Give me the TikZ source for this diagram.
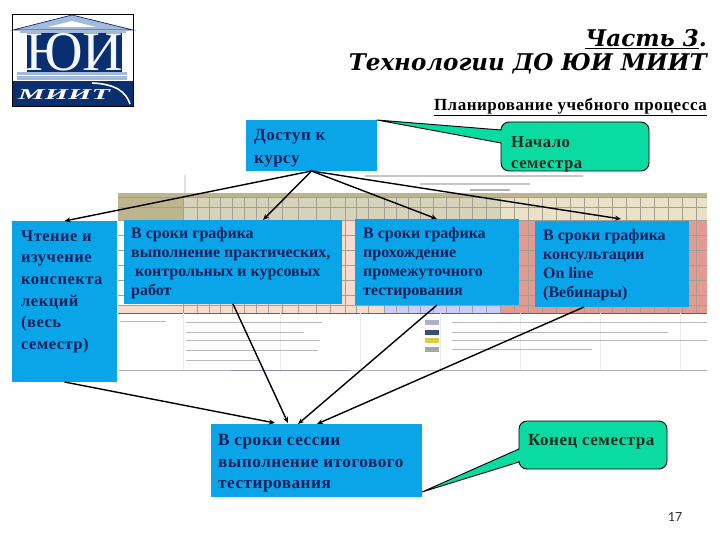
\documentclass[tikz,border=0pt]{standalone}
\usepackage{fontspec}
\setmainfont{Liberation Serif}
\newfontfamily\bodyfont[LetterSpace=3,BoldFont={Liberation Serif Bold}]{Liberation Serif}
\newfontfamily\plainfont[BoldFont={Liberation Serif Bold}]{Liberation Serif}
\newfontfamily\titlefont[BoldItalicFont={DejaVu Serif Bold Italic}]{DejaVu Serif}
\newfontfamily\numfont{Carlito}
\usetikzlibrary{arrows.meta,calc}
\definecolor{boxblue}{HTML}{0AA5E8}
\definecolor{navytext}{HTML}{0C1F5C}
\definecolor{calloutgreen}{HTML}{0ADBA0}
\definecolor{logoblue}{HTML}{0A2F70}
\definecolor{logolight}{HTML}{A4BADB}
\definecolor{tan}{HTML}{BDB58E}
\definecolor{beige}{HTML}{EAE2C6}
\definecolor{paleink}{HTML}{F6DCCF}
\definecolor{salmon}{HTML}{E39A90}
\definecolor{gridline}{HTML}{7D7468}
\tikzset{
  bluebox/.style={fill=boxblue,draw=none,inner sep=0pt,outer sep=0pt,anchor=north west},
  boxtext/.style={anchor=north west,inner sep=0pt,align=left,text=navytext,font=\plainfont\bfseries\fontsize{16}{19.2}\selectfont},
  callout/.style={fill=calloutgreen,draw=black,line width=0.9pt,line join=round},
  link/.style={black,line width=1.4pt,-{Stealth[length=6pt,width=5pt]}},
  faint/.style={draw=gray!55,line width=1pt},
  grid/.style={draw=gridline!70,line width=0.5pt}
}
\begin{document}
\begin{tikzpicture}[x=1pt,y=-1pt]
\useasboundingbox (0,0) rectangle (720,540);
% ---------- schedule table behind the boxes
\fill[white] (0,0) rectangle (720,540);
\draw[gray!25,line width=2pt] (185,175) -- (185,193);
\draw[gray!45,line width=1.2pt] (365,176) -- (583,176);
\draw[gray!45,line width=1.2pt] (420,184) -- (530,184);
\draw[gray!60,line width=1.2pt] (470,190) -- (510,190);
\fill[beige] (183,196) rectangle (707,220);
\fill[tan] (118,193) rectangle (707,197);
\fill[tan] (118,193) rectangle (183,220);
\fill[tan!60] (183,197) rectangle (500,220);
\fill[paleink] (183,220) rectangle (500,305);
\fill[salmon] (500,220) rectangle (707,313);
\fill[paleink] (118,305) rectangle (385,313);
\fill[blue!20] (385,305) rectangle (500,313);
\foreach \xx in {183,197,209,220,232,244,256,268,282,298,316,330,345,356,368,384,396,408,420,433,446,459,472,486,500,514,528,542,556,570,584,598,612,626,640,654,668,682,696}
  \draw[grid] (\xx,197) -- (\xx,313);
\foreach \yy in {197,207,220,235,250,265,280,295,305,313}
  \draw[grid] (118,\yy) -- (707,\yy);
\draw[navytext!70,line width=0.8pt] (118,313) -- (707,313);
\foreach \xx in {183,280,360,440,520,600,680}
  \draw[gray!15,line width=0.4pt] (\xx,313) -- (\xx,370);
\foreach \yy/\xa in {322/322,332/304,340/320,350/318,360/258}
  \draw[faint] (186,\yy) -- (\xa,\yy);
\draw[faint] (120,321) -- (166,321);
\foreach \yy/\xa in {322/707,332/668,340/707,349/592}
  \draw[faint] (452,\yy) -- (\xa,\yy);
\fill[gray!75!blue!50] (425,320) rectangle (439,325);
\fill[logoblue!60!gray] (425,330) rectangle (439,335);
\fill[olive!50!yellow!70] (425,338) rectangle (439,343);
\fill[gray!70] (425,347) rectangle (439,352);
\draw[gray!60,line width=0.8pt] (118,370) -- (707,370);
\draw[navytext!50,line width=0.8pt] (230,370) -- (350,370);
% ---------- logo
\fill[logoblue] (12,81) rectangle (133,106);
\draw[black,line width=0.7pt] (12,14) rectangle (133,106);
\fill[logoblue] (27,32) rectangle (122,72);
\fill[logolight] (72,15) -- (133,30) -- (13,30) -- cycle;
\draw[logoblue,line width=0.7pt] (72,15) -- (133,30) -- (13,30) -- cycle;
\fill[white] (72,21) -- (96,27) -- (48,27) -- cycle;
\fill[logolight] (20,30) rectangle (126,33);
\node[text=white!88!logolight,inner sep=0pt,font=\fontsize{56}{56}\selectfont] (logoletters) at (74,52) {ЮИ};
\fill[logolight] (17,72) rectangle (127,80);
\draw[white,line width=0.6pt] (17,75) -- (127,75);
\node[text=white,inner sep=0pt,xscale=2,font=\bfseries\itshape\fontsize{15}{15}\selectfont] (logomiit) at (64,95) {МИИТ};
\draw[white,line width=1.6pt] (92,83) .. controls (116,84) and (126,92) .. (130,104);
% ---------- title
\node[anchor=east,inner sep=0pt,font=\titlefont\bfseries\itshape\fontsize{23}{23}\selectfont] (titleone) at (707,39) {\underline{Часть 3}.};
\node[anchor=east,inner sep=0pt,font=\titlefont\bfseries\itshape\fontsize{23}{23}\selectfont] (titletwo) at (707,64) {Технологии ДО ЮИ МИИТ};
\node[anchor=east,inner sep=0pt,font=\bodyfont\bfseries\fontsize{17}{17}\selectfont] (subtitle) at (707,107) {\underline{Планирование учебного процесса}};
% ---------- boxes
\node[bluebox,minimum width=131pt,minimum height=51pt] (dostup) at (246,120) {};
\node[bluebox,minimum width=105pt,minimum height=161pt] (chten) at (12,221) {};
\node[bluebox,minimum width=218pt,minimum height=84pt] (grafa) at (124,220) {};
\node[bluebox,minimum width=164pt,minimum height=86pt] (grafb) at (355,219) {};
\node[bluebox,minimum width=154pt,minimum height=86pt] (grafc) at (535,221) {};
\node[bluebox,minimum width=211pt,minimum height=73pt] (sessia) at (211,424) {};
\coordinate (tipgrafa) at (263,220);
\coordinate (tipgrafb) at (437,219);
\coordinate (tipgrafc) at (621,219);
\coordinate (sessa) at (275,423);
\coordinate (sessb) at (288,423);
\coordinate (sessc) at (298,424);
\coordinate (sessd) at (317,424);
\coordinate (fromc) at (584,307);
% ---------- connectors
\draw[link] (dostup.south) -- (chten.north);
\draw[link] (dostup.south) -- (tipgrafa);
\draw[link] (dostup.south) -- (tipgrafb);
\draw[link] (dostup.south) -- (tipgrafc);
\draw[link] (chten.south) -- (sessa);
\draw[link] (grafa.south) -- (sessb);
\draw[link] (grafb.south) -- (sessc);
\draw[link] (fromc) -- (sessd);
% ---------- callouts
\path[callout] (377,120) -- (501,130) [rounded corners=8pt] -- (501,122) -- (649,122) -- (649,171) -- (501,171) [sharp corners] -- (501,143) -- cycle;
\node[anchor=north west,inner sep=0pt,align=left,text=black!85,font=\bodyfont\bfseries\fontsize{16.7}{21}\selectfont] (nachalo) at (511,136) {Начало\\семестра};
\path[callout] (422,492) -- (519,449) [rounded corners=8pt] -- (519,421) -- (667,421) -- (667,469) -- (519,469) [sharp corners] -- (519,462) -- cycle;
\node[anchor=north west,inner sep=0pt,align=left,text=black!85,font=\bodyfont\bfseries\fontsize{17}{19}\selectfont] (konec) at (528,434) {Конец семестра};
% ---------- box texts
\node[boxtext,font=\bodyfont\bfseries\fontsize{17}{23}\selectfont] (tdostup) at (254,129) {Доступ к\\курсу};
\node[boxtext,font=\bodyfont\bfseries\fontsize{16.5}{21.7}\selectfont] (tchten) at (21,230) {Чтение и\\изучение\\конспекта\\лекций\\(весь\\семестр)};
\node[boxtext] (tgrafa) at (131,227) {В сроки графика\\выполнение практических,\\\ контрольных и курсовых\\работ};
\node[boxtext] (tgrafb) at (363,227) {В сроки графика\\прохождение\\промежуточного\\тестирования};
\node[boxtext] (tgrafc) at (543,229) {В сроки графика\\консультации\\On line\\(Вебинары)};
\node[boxtext,font=\bodyfont\bfseries\fontsize{17.2}{21.7}\selectfont] (tsessia) at (218,434) {В сроки сессии\\выполнение итогового\\тестирования};
\node[inner sep=0pt,font=\numfont\fontsize{14}{14}\selectfont,text=black!80] (pagenum) at (675,517) {17};
\end{tikzpicture}
\end{document}
